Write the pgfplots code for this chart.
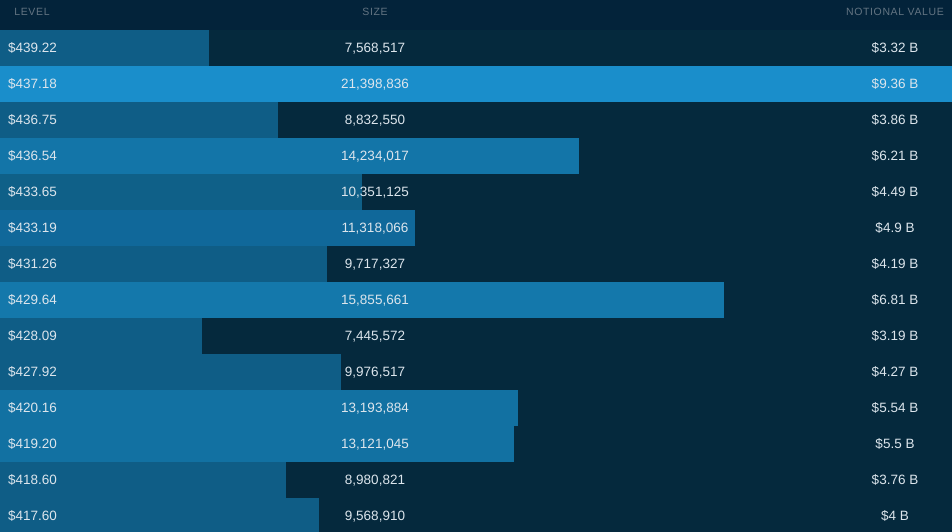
\documentclass[border=0pt]{standalone}
\usepackage{pgfplots}
\pgfplotsset{compat=1.18}
\usepackage{fontspec}
\setmainfont{Liberation Sans}
\definecolor{bgrow}{HTML}{05293D}
\definecolor{bghead}{HTML}{03233A}
\definecolor{txt}{HTML}{DCE5EC}
\definecolor{headtxt}{HTML}{637482}
\definecolor{cA}{HTML}{0F5D86}
\definecolor{cB}{HTML}{0F6088}
\definecolor{cC}{HTML}{10689A}
\definecolor{cD}{HTML}{1271A2}
\definecolor{cE}{HTML}{1375A8}
\definecolor{cF}{HTML}{1478AB}
\definecolor{cG}{HTML}{1A8ECB}
\newfontfamily\headfont[LetterSpace=6]{Liberation Sans}
\tikzset{
  lv/.style={text=txt, anchor=base, font=\fontsize{13.5}{13.5}\selectfont},
  hd/.style={text=headtxt, anchor=base, font=\headfont\fontsize{10.5}{10.5}\selectfont},
}
\begin{document}
\begin{tikzpicture}
\begin{axis}[
  scale only axis, width=952pt, height=532pt,
  xmin=0, xmax=952, ymin=-0.33333, ymax=14.44444,
  y dir=reverse, axis lines=none, ticks=none,
  enlargelimits=false, clip=true,
  axis background/.style={fill=bgrow},
  barstyle/.style={xbar, bar width=1, bar shift=0pt, draw=none, forget plot},
]
\fill[bghead] (axis cs:0,-0.33333) rectangle (axis cs:952,0.5);
% bar lengths (pixels of the reference)
\addplot[barstyle, fill=cA] coordinates {(209,1)};
\addplot[barstyle, fill=cG] coordinates {(952,2)};
\addplot[barstyle, fill=cA] coordinates {(278,3)};
\addplot[barstyle, fill=cE] coordinates {(579,4)};
\addplot[barstyle, fill=cB] coordinates {(362,5)};
\addplot[barstyle, fill=cC] coordinates {(415,6)};
\addplot[barstyle, fill=cA] coordinates {(327,7)};
\addplot[barstyle, fill=cF] coordinates {(724,8)};
\addplot[barstyle, fill=cA] coordinates {(202,9)};
\addplot[barstyle, fill=cA] coordinates {(341,10)};
\addplot[barstyle, fill=cD] coordinates {(518,11)};
\addplot[barstyle, fill=cD] coordinates {(514,12)};
\addplot[barstyle, fill=cA] coordinates {(286,13)};
\addplot[barstyle, fill=cA] coordinates {(319,14)};
% header
\node[hd] at (axis cs:32,0.09) {LEVEL};
\node[hd] at (axis cs:375,0.09) {SIZE};
\node[hd] at (axis cs:895,0.09) {NOTIONAL VALUE};
% rows
\def\bl{0.125}
\node[lv] at (axis cs:32.5,1.125) {\$439.22};  \node[lv] at (axis cs:375,1.125) {7,568,517};   \node[lv] at (axis cs:895,1.125) {\$3.32 B};
\node[lv] at (axis cs:32.5,2.125) {\$437.18};  \node[lv] at (axis cs:375,2.125) {21,398,836};  \node[lv] at (axis cs:895,2.125) {\$9.36 B};
\node[lv] at (axis cs:32.5,3.125) {\$436.75};  \node[lv] at (axis cs:375,3.125) {8,832,550};   \node[lv] at (axis cs:895,3.125) {\$3.86 B};
\node[lv] at (axis cs:32.5,4.125) {\$436.54};  \node[lv] at (axis cs:375,4.125) {14,234,017};  \node[lv] at (axis cs:895,4.125) {\$6.21 B};
\node[lv] at (axis cs:32.5,5.125) {\$433.65};  \node[lv] at (axis cs:375,5.125) {10,351,125};  \node[lv] at (axis cs:895,5.125) {\$4.49 B};
\node[lv] at (axis cs:32.5,6.125) {\$433.19};  \node[lv] at (axis cs:375,6.125) {11,318,066};  \node[lv] at (axis cs:895,6.125) {\$4.9 B};
\node[lv] at (axis cs:32.5,7.125) {\$431.26};  \node[lv] at (axis cs:375,7.125) {9,717,327};   \node[lv] at (axis cs:895,7.125) {\$4.19 B};
\node[lv] at (axis cs:32.5,8.125) {\$429.64};  \node[lv] at (axis cs:375,8.125) {15,855,661};  \node[lv] at (axis cs:895,8.125) {\$6.81 B};
\node[lv] at (axis cs:32.5,9.125) {\$428.09};  \node[lv] at (axis cs:375,9.125) {7,445,572};   \node[lv] at (axis cs:895,9.125) {\$3.19 B};
\node[lv] at (axis cs:32.5,10.125) {\$427.92}; \node[lv] at (axis cs:375,10.125) {9,976,517};  \node[lv] at (axis cs:895,10.125) {\$4.27 B};
\node[lv] at (axis cs:32.5,11.125) {\$420.16}; \node[lv] at (axis cs:375,11.125) {13,193,884}; \node[lv] at (axis cs:895,11.125) {\$5.54 B};
\node[lv] at (axis cs:32.5,12.125) {\$419.20}; \node[lv] at (axis cs:375,12.125) {13,121,045}; \node[lv] at (axis cs:895,12.125) {\$5.5 B};
\node[lv] at (axis cs:32.5,13.125) {\$418.60}; \node[lv] at (axis cs:375,13.125) {8,980,821};  \node[lv] at (axis cs:895,13.125) {\$3.76 B};
\node[lv] at (axis cs:32.5,14.125) {\$417.60}; \node[lv] at (axis cs:375,14.125) {9,568,910};  \node[lv] at (axis cs:895,14.125) {\$4 B};
\end{axis}
\end{tikzpicture}
\end{document}
